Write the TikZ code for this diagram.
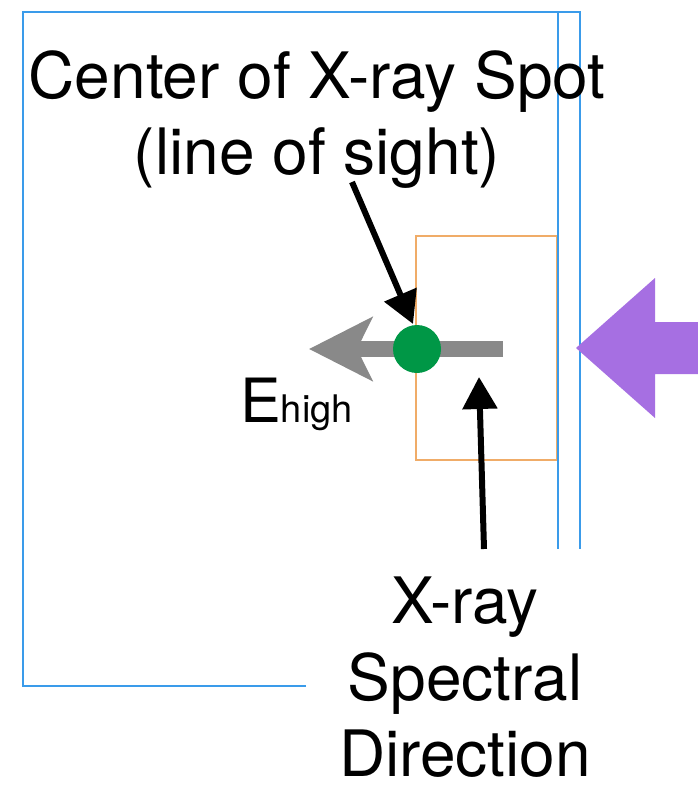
\documentclass[tikz,border=0pt]{standalone}
\usepackage{fontspec}
\setmainfont{TeX Gyre Heros}
\usetikzlibrary{arrows.meta}
\definecolor{frameblue}{RGB}{58,155,234}
\definecolor{boxorange}{RGB}{240,172,104}
\definecolor{spotgreen}{RGB}{0,151,70}
\definecolor{beamgray}{RGB}{137,137,137}
\definecolor{beampurple}{RGB}{166,111,226}
\tikzset{
  frameline/.style={draw=frameblue, line width=2.4pt},
  orangebox/.style={draw=boxorange, line width=2.4pt},
  pointer/.style={line width=6pt, -{Triangle[length=32pt,width=34pt]}},
  label/.style={align=center, inner sep=0pt, font=\fontsize{64}{76.5}\selectfont},
}
\begin{document}
\begin{tikzpicture}[x=1pt,y=-1pt]
\path[use as bounding box] (0,0) rectangle (698,800);
% orange detector box
\draw[orangebox] (416,236) rectangle (557,460);
% blue frame
\draw[frameline] (306,686) -- (23,686) -- (23,12) -- (580,12) -- (580,549);
\draw[frameline] (558,12) -- (558,549);
% gray spectral arrow
\coordinate (gstart) at (503,349);
\coordinate (gtip) at (309,349);
\draw[beamgray, line width=16pt, -{Stealth[length=63pt,width=63pt,inset=15pt]}] (gstart) -- (gtip);
% green spot
\node[circle, fill=spotgreen, minimum size=48pt, inner sep=0pt] (spot) at (417,349) {};
% purple incoming beam
\fill[beampurple] (576,348) -- (655,278) -- (655,322) -- (698,322) -- (698,374) -- (655,374) -- (655,418) -- cycle;
% labels
\node[label, anchor=north] (lbl1) at (317,50) {Center of X-ray Spot\\(line of sight)};
\node[label, anchor=north] (lbl2) at (465,577) {X-ray\\Spectral\\Direction};
\node[inner sep=0pt, anchor=base west, font=\fontsize{61}{61}\selectfont] (ehigh) at (240,422) {E{\fontsize{38}{38}\selectfont high}};
% pointers
\coordinate (p1s) at (352,182);
\coordinate (p1t) at (413,324);
\coordinate (p2s) at (484,549);
\coordinate (p2t) at (479,377);
\draw[pointer] (p1s) -- (p1t);
\draw[pointer] (p2s) -- (p2t);
\end{tikzpicture}
\end{document}
